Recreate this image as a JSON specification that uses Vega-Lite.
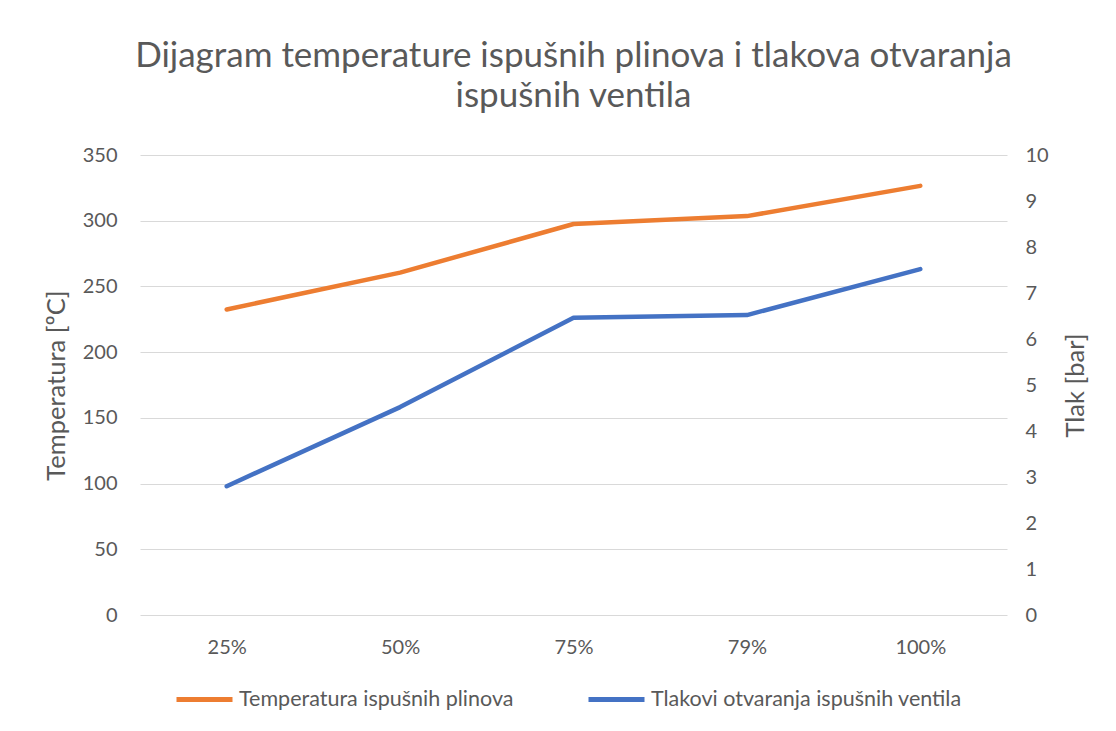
{
  "$schema": "https://vega.github.io/schema/vega-lite/v6.json",
  "width": 867,
  "height": 460,
  "autosize": {"type": "none"},
  "padding": {"left": 140, "top": 155, "right": 109, "bottom": 116},
  "background": "white",
  "title": {
    "text": ["Dijagram temperature ispušnih plinova i tlakova otvaranja", "ispušnih ventila"],
    "font": "Lato",
    "fontSize": 35,
    "fontWeight": "normal",
    "color": "#595959",
    "lineHeight": 40,
    "anchor": "middle",
    "offset": 31
  },
  "data": {
    "values": [
      {"opterecenje": "25%", "temperatura": 232.5, "tlak": 2.8},
      {"opterecenje": "50%", "temperatura": 260.5, "tlak": 4.52},
      {"opterecenje": "75%", "temperatura": 297.5, "tlak": 6.46},
      {"opterecenje": "79%", "temperatura": 303.5, "tlak": 6.52},
      {"opterecenje": "100%", "temperatura": 326.5, "tlak": 7.52}
    ]
  },
  "encoding": {
    "x": {
      "field": "opterecenje",
      "type": "ordinal",
      "sort": null,
      "scale": {"padding": 0.5},
      "axis": {
        "title": null,
        "labelAngle": 0,
        "labelFont": "Lato",
        "labelFontSize": 20,
        "labelColor": "#595959",
        "labelPadding": 22,
        "ticks": false,
        "domain": false,
        "grid": false
      }
    }
  },
  "layer": [
    {
      "mark": {"type": "line", "strokeWidth": 4.5, "strokeCap": "round", "strokeJoin": "round"},
      "encoding": {
        "y": {
          "field": "temperatura",
          "type": "quantitative",
          "scale": {"domain": [0, 350], "nice": false},
          "axis": {
            "title": "Temperatura [ºC]",
            "values": [0, 50, 100, 150, 200, 250, 300, 350],
            "titleFont": "Lato",
            "titleFontSize": 25.5,
            "titleFontWeight": "normal",
            "titleColor": "#595959",
            "titlePadding": 13,
            "labelFont": "Lato",
            "labelFontSize": 20,
            "labelColor": "#595959",
            "labelPadding": 23,
            "ticks": false,
            "domain": false,
            "grid": true,
            "gridColor": "#d9d9d9",
            "gridWidth": 1
          }
        },
        "color": {"datum": "Temperatura ispušnih plinova"}
      }
    },
    {
      "mark": {"type": "line", "strokeWidth": 4.5, "strokeCap": "round", "strokeJoin": "round"},
      "encoding": {
        "y": {
          "field": "tlak",
          "type": "quantitative",
          "scale": {"domain": [0, 10], "nice": false},
          "axis": {
            "title": "Tlak [bar]",
            "orient": "right",
            "values": [0, 1, 2, 3, 4, 5, 6, 7, 8, 9, 10],
            "titleAngle": 270,
            "titleFont": "Lato",
            "titleFontSize": 25.5,
            "titleFontWeight": "normal",
            "titleColor": "#595959",
            "titlePadding": 40,
            "labelFont": "Lato",
            "labelFontSize": 20,
            "labelColor": "#595959",
            "labelPadding": 18,
            "ticks": false,
            "domain": false,
            "grid": false
          }
        },
        "color": {"datum": "Tlakovi otvaranja ispušnih ventila"}
      }
    }
  ],
  "resolve": {"scale": {"y": "independent"}},
  "config": {
    "view": {"stroke": null},
    "range": {"category": ["#ED7D31", "#4472C4"]},
    "legend": {
      "orient": "none",
      "direction": "horizontal",
      "legendX": 34,
      "legendY": 514,
      "title": null,
      "symbolType": "stroke",
      "symbolSize": 3136,
      "symbolStrokeWidth": 5,
      "labelFont": "Lato",
      "labelFontSize": 21.5,
      "labelColor": "#595959",
      "labelOffset": 4,
      "labelLimit": 0,
      "columnPadding": 64
    }
  }
}
